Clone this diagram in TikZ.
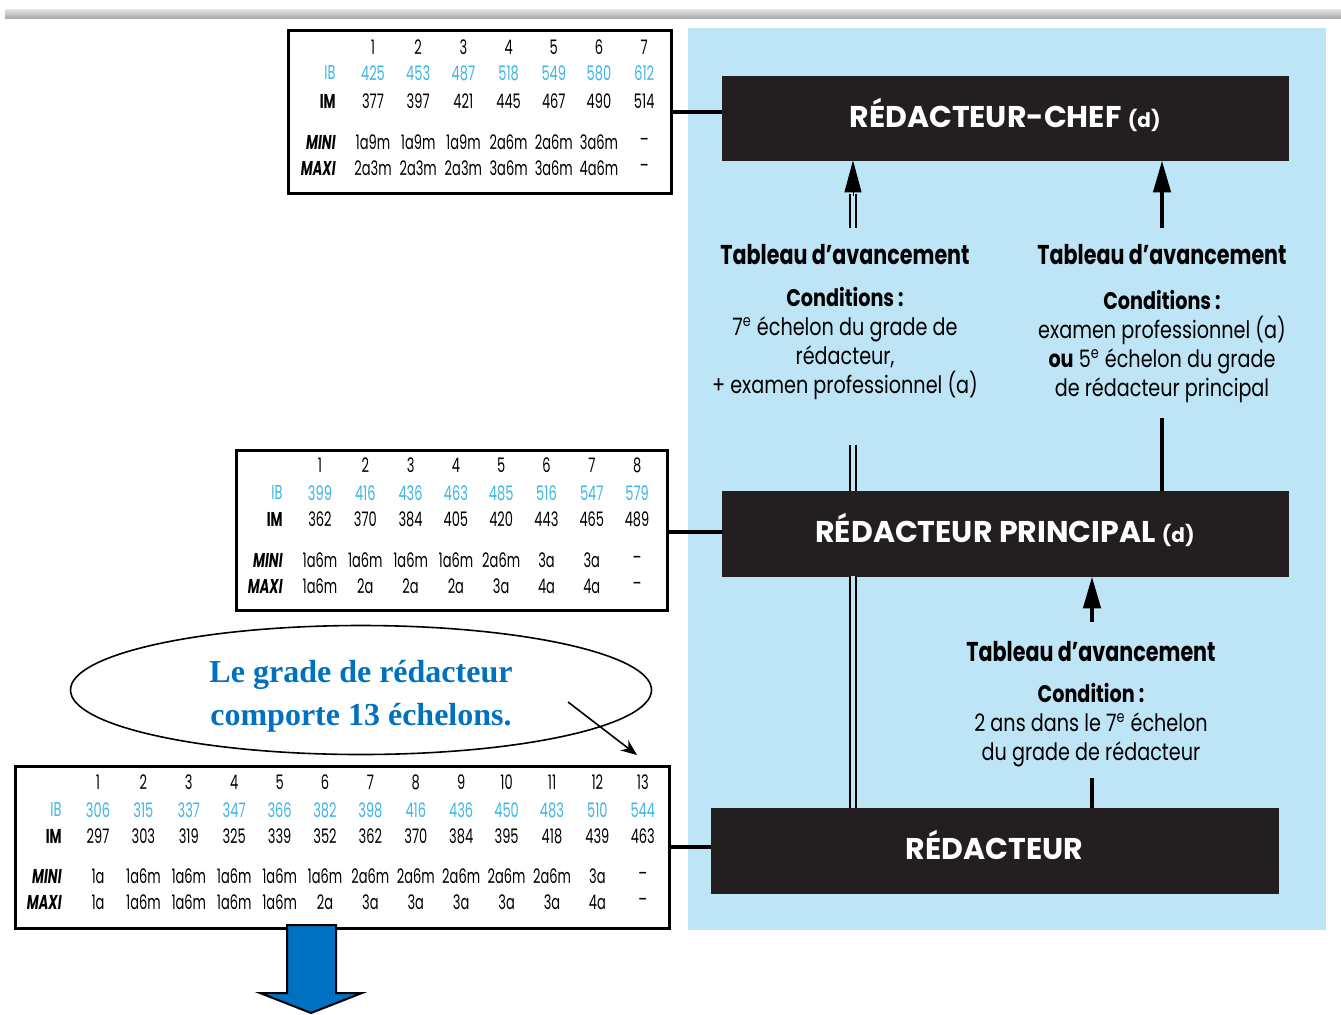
\documentclass[tikz,border=0pt]{standalone}
\usepackage{fontspec}
\usetikzlibrary{arrows.meta,shapes.geometric,fit}
\newfontfamily\futura[FakeStretch=0.76]{Poppins}
\newfontfamily\futuracond[FakeStretch=0.8]{Poppins}
\newfontfamily\futuratab[FakeStretch=0.65]{Poppins}
\newfontfamily\futuratitre{Poppins}
\newfontfamily\notefont{Liberation Serif}
\definecolor{bleupanneau}{HTML}{BDE5F6}
\definecolor{noirgrade}{HTML}{231F20}
\definecolor{cyanib}{HTML}{3DB5E6}
\definecolor{bleunote}{HTML}{0070C0}
\tikzset{
  tablecadre/.style={draw, line width=1.5pt, inner sep=0pt},
  grade/.style={fill=noirgrade, draw=noirgrade, inner sep=0pt},
  gradetexte/.style={text=white, font=\futuratitre\bfseries\fontsize{15}{18}\selectfont},
  cellule/.style={font=\futuratab\fontsize{10}{12}\selectfont, inner sep=1pt},
  etiq/.style={cellule, anchor=east},
  titreav/.style={font=\futura\bfseries\fontsize{13.6}{16}\selectfont},
  cond/.style={font=\futuracond\fontsize{12}{14.5}\selectfont, align=center},
  fleche/.style={line width=2.2pt, -{Triangle[length=16pt,width=8.5pt]}},
  trait/.style={line width=2.2pt},
  liaison/.style={line width=1.6pt},
  doubletrait/.style={double=bleupanneau, double distance=1.9pt, line width=1pt}
}
\begin{document}
\begin{tikzpicture}[x=0.5pt,y=-0.5pt]
\useasboundingbox (0,0) rectangle (1341,1014);
% bandeau gris et fond bleu
\shade[top color=gray!20, bottom color=gray!65] (5,9) rectangle (1341,18);
\fill[bleupanneau] (688,28) rectangle (1326,930);
\coordinate (colD) at (853,0);
\coordinate (colR) at (1162,0);
\coordinate (colB) at (1092,0);

% textes des conditions
\node[titreav] (tabL) at (845,255) {Tableau d’avancement};
\node[cond] (condL) at (845,343) {\textbf{Conditions :}\\7\textsuperscript{e} échelon du grade de\\rédacteur,\\+ examen professionnel (a)};
\node[titreav] (tabR) at (1162,255) {Tableau d’avancement};
\node[cond] (condR) at (1162,346) {\textbf{Conditions :}\\examen professionnel (a)\\\textbf{ou} 5\textsuperscript{e} échelon du grade\\de rédacteur principal};
\node[titreav] (tabB) at (1091,652) {Tableau d’avancement};
\node[cond] (condB) at (1091,725) {\textbf{Condition :}\\2 ans dans le 7\textsuperscript{e} échelon\\du grade de rédacteur};

% grades
\node[grade, fit={(722,76) (1288,160)}] (chef) {};
\node[grade, fit={(722,491) (1288,576)}] (principal) {};
\node[grade, fit={(711,808) (1278,893)}] (redacteur) {};

% liaisons
\draw[doubletrait] (redacteur.north -| colD) -- ++(0,-363);
\fill[noirgrade] (principal.north west) rectangle (principal.south east);
\node[gradetexte] (cheftexte) at ([yshift=1.5pt]chef.center) {RÉDACTEUR-CHEF {\fontsize{10}{12}\selectfont(d)}};
\node[gradetexte] (principaltexte) at ([yshift=2pt]principal.center) {RÉDACTEUR PRINCIPAL {\fontsize{10}{12}\selectfont(d)}};
\node[gradetexte] (redacteurtexte) at ([yshift=3pt]redacteur.center) {RÉDACTEUR};
\draw[doubletrait] (colD |- 0,228) -- (colD |- 0,194);
\draw[-{Triangle[length=16pt,width=8.5pt]}, line width=0.5pt] (colD |- 0,196) -- (chef.south -| colD);
\draw[fleche] (colR |- 0,228) -- (chef.south -| colR);
\draw[trait] (principal.north -| colR) -- ++(0,-73);
\draw[fleche] (colB |- 0,622) -- (principal.south -| colB);
\draw[trait] (redacteur.north -| colB) -- ++(0,-30);

% grille du grade de redacteur-chef
\node[tablecadre, fit={(288,30) (671,193)}] (tabchef) {};
\foreach \y/\lab/\coul/\vals in {
    47/{}/black/{1,2,3,4,5,6,7},
    73/{IB}/cyanib/{425,453,487,518,549,580,612},
    101/{\bfseries IM}/black/{377,397,421,445,467,490,514},
    142/{\bfseries\itshape MINI}/black/{1a9m,1a9m,1a9m,2a6m,2a6m,3a6m,–},
    168/{\bfseries\itshape MAXI}/black/{2a3m,2a3m,2a3m,3a6m,3a6m,4a6m,–}}
{
  \node[etiq, text=\coul] (chef-lab-\y) at (338,\y) {\lab};
  \foreach \v [count=\i] in \vals
    \node[cellule, text=\coul] (chef-\y-\i) at ({373+45.2*(\i-1)},\y) {\v};
}
\draw[liaison] (tabchef.east |- 0,112) -- (chef.west |- 0,112);

% grille du grade de redacteur principal
\node[tablecadre, fit={(236,450) (667,610)}] (tabprincipal) {};
\foreach \y/\lab/\coul/\vals in {
    465/{}/black/{1,2,3,4,5,6,7,8},
    493/{IB}/cyanib/{399,416,436,463,485,516,547,579},
    519/{\bfseries IM}/black/{362,370,384,405,420,443,465,489},
    560/{\bfseries\itshape MINI}/black/{1a6m,1a6m,1a6m,1a6m,2a6m,3a,3a,–},
    586/{\bfseries\itshape MAXI}/black/{1a6m,2a,2a,2a,3a,4a,4a,–}}
{
  \node[etiq, text=\coul] (principal-lab-\y) at (285,\y) {\lab};
  \foreach \v [count=\i] in \vals
    \node[cellule, text=\coul] (principal-\y-\i) at ({320+45.3*(\i-1)},\y) {\v};
}
\draw[liaison] (tabprincipal.east |- 0,532) -- (principal.west |- 0,532);

% grille du grade de redacteur
\node[tablecadre, fit={(15,766) (669,928)}] (tabredacteur) {};
\foreach \y/\lab/\coul/\vals in {
    782/{}/black/{1,2,3,4,5,6,7,8,9,10,11,12,13},
    810/{IB}/cyanib/{306,315,337,347,366,382,398,416,436,450,483,510,544},
    836/{\bfseries IM}/black/{297,303,319,325,339,352,362,370,384,395,418,439,463},
    876/{\bfseries\itshape MINI}/black/{1a,1a6m,1a6m,1a6m,1a6m,1a6m,2a6m,2a6m,2a6m,2a6m,2a6m,3a,–},
    902/{\bfseries\itshape MAXI}/black/{1a,1a6m,1a6m,1a6m,1a6m,2a,3a,3a,3a,3a,3a,4a,–}}
{
  \node[etiq, text=\coul] (redacteur-lab-\y) at (64,\y) {\lab};
  \foreach \v [count=\i] in \vals
    \node[cellule, text=\coul] (redacteur-\y-\i) at ({98+45.4*(\i-1)},\y) {\v};
}
\draw[liaison] (tabredacteur.east |- 0,847) -- (redacteur.west |- 0,847);

% bulle
\node[ellipse, draw, line width=0.8pt, minimum width=290.5pt, minimum height=64.5pt, inner sep=0pt] (note) at (361,690) {};
\node[font=\notefont\bfseries\fontsize{16}{21.5}\selectfont, text=bleunote, align=center] (notetexte) at (361,696) {Le grade de rédacteur\\comporte 13 échelons.};
\coordinate (noteDepart) at (568,702);
\coordinate (noteFin) at (637,755);
\draw[line width=0.8pt, -{Stealth[length=8pt,width=6.5pt]}] (noteDepart) -- (noteFin);

% grosse fleche bleue
\draw[fill=bleunote, line width=1pt] (287,925) -- (287,993) -- (260,993) -- (311,1013) -- (362,993) -- (336,993) -- (336,925) -- cycle;
\end{tikzpicture}
\end{document}
